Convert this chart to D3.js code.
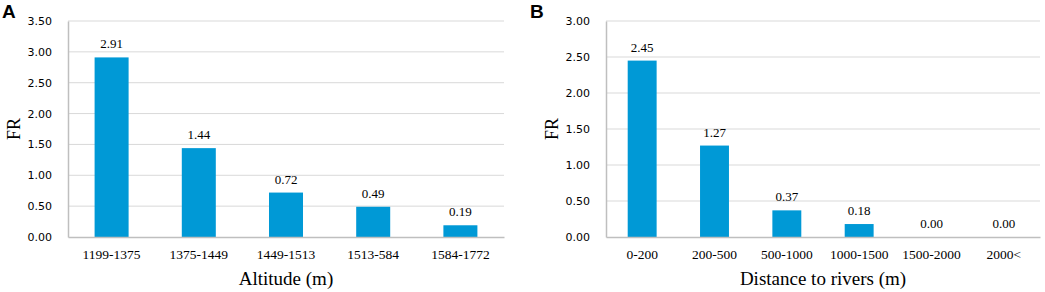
<!DOCTYPE html>
<html>
<head>
<meta charset="utf-8">
<script src="https://cdn.jsdelivr.net/npm/d3@7"></script>
<style>
  body { margin: 0; background: #fff; }
  svg { display: block; }
</style>
</head>
<body>
<div id="chart"></div>
<script>
// Panel A: altitude classes
const altitudeClasses = ['1199-1375', '1375-1449', '1449-1513', '1513-584', '1584-1772'];
const altitudeFR = [2.91, 1.44, 0.72, 0.49, 0.19];
const altitudeTicks = [0, 0.5, 1, 1.5, 2, 2.5, 3, 3.5];

// Panel B: distance to rivers classes
const riverClasses = ['0-200', '200-500', '500-1000', '1000-1500', '1500-2000', '2000<'];
const riverFR = [2.45, 1.27, 0.37, 0.18, 0.00, 0.00];
const riverTicks = [0, 0.5, 1, 1.5, 2, 2.5, 3];

const width = 1045, height = 292;
const barColor = '#0099d6';
const serif = '"Liberation Serif", "Times New Roman", serif';
const sans = '"DejaVu Sans", Verdana, sans-serif';

const svg = d3.select('#chart')
  .append('svg')
  .attr('width', width)
  .attr('height', height);

function drawPanel(cfg) {
  const g = svg.append('g');

  const x = d3.scaleBand()
    .domain(cfg.categories)
    .range([cfg.left, cfg.right])
    .paddingInner(cfg.pad)
    .paddingOuter(cfg.pad / 2);

  const y = d3.scaleLinear()
    .domain([0, cfg.max])
    .range([cfg.bottom, cfg.top]);

  // gridlines
  g.selectAll('.grid')
    .data(cfg.ticks.filter(t => t > 0))
    .enter().append('line')
    .attr('x1', cfg.left).attr('x2', cfg.right)
    .attr('y1', d => y(d)).attr('y2', d => y(d))
    .attr('stroke', '#d9d9d9')
    .attr('stroke-width', 1);

  // y axis
  const yAxis = g.append('g')
    .attr('transform', `translate(${cfg.left},0)`)
    .call(d3.axisLeft(y).tickValues(cfg.ticks).tickFormat(d3.format('.2f')).tickSize(0).tickPadding(16));
  yAxis.select('.domain').attr('stroke', '#bfbfbf').attr('stroke-width', 1.5);
  yAxis.selectAll('text')
    .attr('font-family', sans)
    .attr('font-size', 11)
    .attr('fill', '#000');

  // bars
  g.selectAll('.bar')
    .data(cfg.values)
    .enter().append('rect')
    .attr('x', (d, i) => x(cfg.categories[i]))
    .attr('y', d => y(d))
    .attr('width', x.bandwidth())
    .attr('height', d => cfg.bottom - y(d))
    .attr('fill', barColor);

  // value labels
  g.selectAll('.val')
    .data(cfg.values)
    .enter().append('text')
    .attr('x', (d, i) => x(cfg.categories[i]) + x.bandwidth() / 2)
    .attr('y', d => y(d) - 9)
    .attr('text-anchor', 'middle')
    .attr('font-family', serif)
    .attr('font-size', 13)
    .text(d => d.toFixed(2));

  // x axis
  const xAxis = g.append('g')
    .attr('transform', `translate(0,${cfg.bottom})`)
    .call(d3.axisBottom(x).tickSize(0).tickPadding(12));
  xAxis.select('.domain').attr('stroke', '#bfbfbf').attr('stroke-width', 1.5);
  xAxis.selectAll('text')
    .attr('font-family', serif)
    .attr('font-size', 13.5)
    .attr('fill', '#000');

  // axis titles
  g.append('text')
    .attr('x', (cfg.left + cfg.right) / 2)
    .attr('y', 285)
    .attr('text-anchor', 'middle')
    .attr('font-family', serif)
    .attr('font-size', 19)
    .text(cfg.xTitle);

  g.append('text')
    .attr('transform', `translate(${cfg.left - 48},${(cfg.top + cfg.bottom) / 2}) rotate(-90)`)
    .attr('text-anchor', 'middle')
    .attr('font-family', serif)
    .attr('font-size', 18)
    .text('FR');

  // panel letter
  g.append('text')
    .attr('x', cfg.letterX)
    .attr('y', 18)
    .attr('font-family', '"Liberation Sans", Arial, sans-serif')
    .attr('font-weight', 'bold')
    .attr('font-size', 19)
    .text(cfg.letter);
}

drawPanel({
  categories: altitudeClasses, values: altitudeFR, ticks: altitudeTicks, max: 3.5,
  left: 68, right: 504, top: 21, bottom: 237, pad: 0.61,
  xTitle: 'Altitude (m)', letter: 'A', letterX: 2
});

drawPanel({
  categories: riverClasses, values: riverFR, ticks: riverTicks, max: 3,
  left: 606, right: 1040, top: 21, bottom: 237, pad: 0.6,
  xTitle: 'Distance to rivers (m)', letter: 'B', letterX: 530
});
</script>
</body>
</html>
